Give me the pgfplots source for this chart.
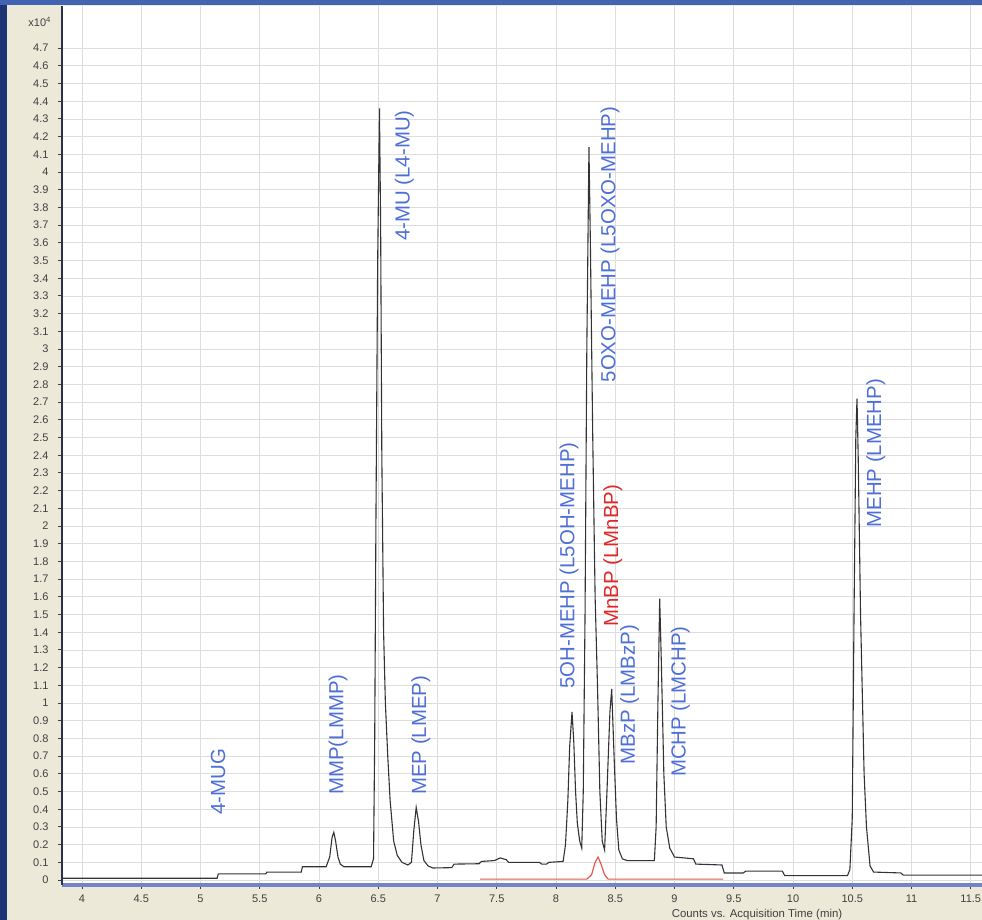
\documentclass[border=0pt]{standalone}
\usepackage{fontspec}
\setmainfont{Liberation Sans}
\usepackage{pgfplots}
\pgfplotsset{compat=1.18}
\definecolor{navy}{HTML}{1C3473}
\definecolor{topbar}{HTML}{4262B2}
\definecolor{beige}{HTML}{ECE9D8}
\definecolor{bandblue}{HTML}{7383C8}
\definecolor{axisdark}{HTML}{26344F}
\definecolor{tickgray}{HTML}{404040}
\definecolor{gridgray}{HTML}{DDDDDD}
\definecolor{trace}{HTML}{333333}
\definecolor{redtrace}{HTML}{E05A4E}
\definecolor{lblblue}{HTML}{4E6FD8}
\definecolor{lblred}{HTML}{E02828}
\begin{document}
\begin{tikzpicture}
\path[use as bounding box] (0,0) rectangle (491pt,460pt);
\fill[navy] (0,0) rectangle (491pt,460pt);
\fill[topbar] (0,457.5pt) rectangle (491pt,460pt);
\fill[beige] (3.5pt,0) rectangle (491pt,457.5pt);
\node[font=\fontsize{5.5}{6}\selectfont, text=tickgray] at (20pt,449pt) {x10\textsuperscript{4}};
\node[font=\fontsize{5.7}{6}\selectfont, text=tickgray] at (378.5pt,2.8pt) {Counts vs. Acquisition Time (min)};
\begin{axis}[
  at={(31pt,17.5pt)}, anchor=south west,
  scale only axis, width=460pt, height=439.5pt,
  xmin=3.831, xmax=11.595, ymin=-0.028, ymax=4.938,
  axis x line=bottom, axis y line=left, axis line style={-},
  x axis line style={draw=bandblue, line width=2pt},
  y axis line style={draw=axisdark, line width=1.4pt},
  xtick={4,4.5,...,11.5},
  ytick={0,0.1,0.2,0.3,0.4,0.5,0.6,0.7,0.8,0.9,1,1.1,1.2,1.3,1.4,1.5,1.6,1.7,1.8,1.9,2,2.1,2.2,2.3,2.4,2.5,2.6,2.7,2.8,2.9,3,3.1,3.2,3.3,3.4,3.5,3.6,3.7,3.8,3.9,4,4.1,4.2,4.3,4.4,4.5,4.6,4.7},
  tick align=outside, major tick length=2pt,
  tick style={draw=tickgray, line width=0.5pt},
  grid=major, major grid style={draw=gridgray, line width=0.4pt},
  ticklabel style={font=\fontsize{5.5}{6}\selectfont, text=tickgray},
  /pgf/number format/assume math mode=true,
  axis background/.style={fill=white},
  clip mode=individual,
  every node/.append style={inner sep=0pt},
  xticklabel style={yshift=0.4pt}, yticklabel style={xshift=-1.2pt},
]
\addplot[trace, line width=0.55pt] coordinates {
(3.83,0.01) (5.14,0.01) (5.15,0.035) (5.55,0.035) (5.56,0.045) (5.85,0.045) (5.86,0.075)
(6.06,0.075) (6.09,0.13) (6.11,0.24) (6.125,0.27) (6.14,0.22) (6.16,0.13) (6.18,0.09) (6.21,0.075)
(6.44,0.075) (6.46,0.12) (6.47,0.8) (6.48,2.0) (6.495,3.5) (6.51,4.36) (6.52,3.7) (6.53,2.4)
(6.545,1.4) (6.56,1.0) (6.58,0.7) (6.60,0.45) (6.63,0.22) (6.66,0.14) (6.70,0.1) (6.75,0.085)
(6.78,0.1) (6.80,0.28) (6.82,0.41) (6.84,0.33) (6.86,0.2) (6.885,0.11) (6.92,0.08) (6.96,0.068)
(7.12,0.07) (7.14,0.09) (7.35,0.092) (7.37,0.105) (7.48,0.11) (7.53,0.125) (7.58,0.115) (7.60,0.1)
(7.86,0.1) (7.88,0.09) (7.92,0.09) (7.94,0.1) (8.06,0.105) (8.08,0.2) (8.10,0.45) (8.115,0.75)
(8.135,0.95) (8.15,0.78) (8.165,0.5) (8.18,0.32) (8.20,0.22) (8.217,0.18) (8.23,0.5) (8.245,1.5)
(8.26,3.0) (8.278,4.14) (8.29,3.6) (8.31,2.5) (8.33,1.6) (8.35,1.1) (8.37,0.5) (8.39,0.22)
(8.41,0.17) (8.43,0.5) (8.455,0.95) (8.47,1.08) (8.49,0.7) (8.51,0.35) (8.53,0.17) (8.56,0.12)
(8.60,0.11) (8.83,0.11) (8.845,0.3) (8.86,1.0) (8.875,1.59) (8.89,1.2) (8.91,0.6) (8.93,0.3)
(8.96,0.18) (9.00,0.13) (9.16,0.12) (9.18,0.09) (9.40,0.085) (9.42,0.04) (9.58,0.04) (9.60,0.05)
(9.91,0.05) (9.93,0.025) (10.46,0.025) (10.48,0.06) (10.50,0.35) (10.515,1.5) (10.53,2.5)
(10.54,2.72) (10.55,2.4) (10.57,1.5) (10.60,0.6) (10.62,0.3) (10.65,0.08) (10.68,0.045)
(10.91,0.04) (10.93,0.028) (11.6,0.028)
};
\addplot[redtrace, line width=0.6pt] coordinates {
(7.36,0.005) (8.26,0.005) (8.30,0.03) (8.33,0.1) (8.355,0.13) (8.38,0.09) (8.41,0.03) (8.44,0.005) (9.41,0.005)
};
\begin{scope}[every node/.style={rotate=90, anchor=west, inner sep=0pt, text=lblblue, font=\fontsize{10.2}{12}\selectfont}]
\node at (axis cs:5.148,0.367) {4-MUG};
\node at (axis cs:6.16,0.48) {MMP(LMMP)};
\node at (axis cs:6.72,3.61) {4-MU (L4-MU)};
\node at (axis cs:6.86,0.48) {MEP (LMEP)};
\node at (axis cs:8.11,1.08) {5OH-MEHP (L5OH-MEHP)};
\node at (axis cs:8.456,2.81) {5OXO-MEHP (L5OXO-MEHP)};
\node[text=lblred] at (axis cs:8.48,1.43) {MnBP (LMnBP)};
\node at (axis cs:8.62,0.65) {MBzP (LMBzP)};
\node at (axis cs:9.05,0.58) {MCHP (LMCHP)};
\node at (axis cs:10.70,1.99) {MEHP (LMEHP)};
\end{scope}
\end{axis}
\end{tikzpicture}
\end{document}
